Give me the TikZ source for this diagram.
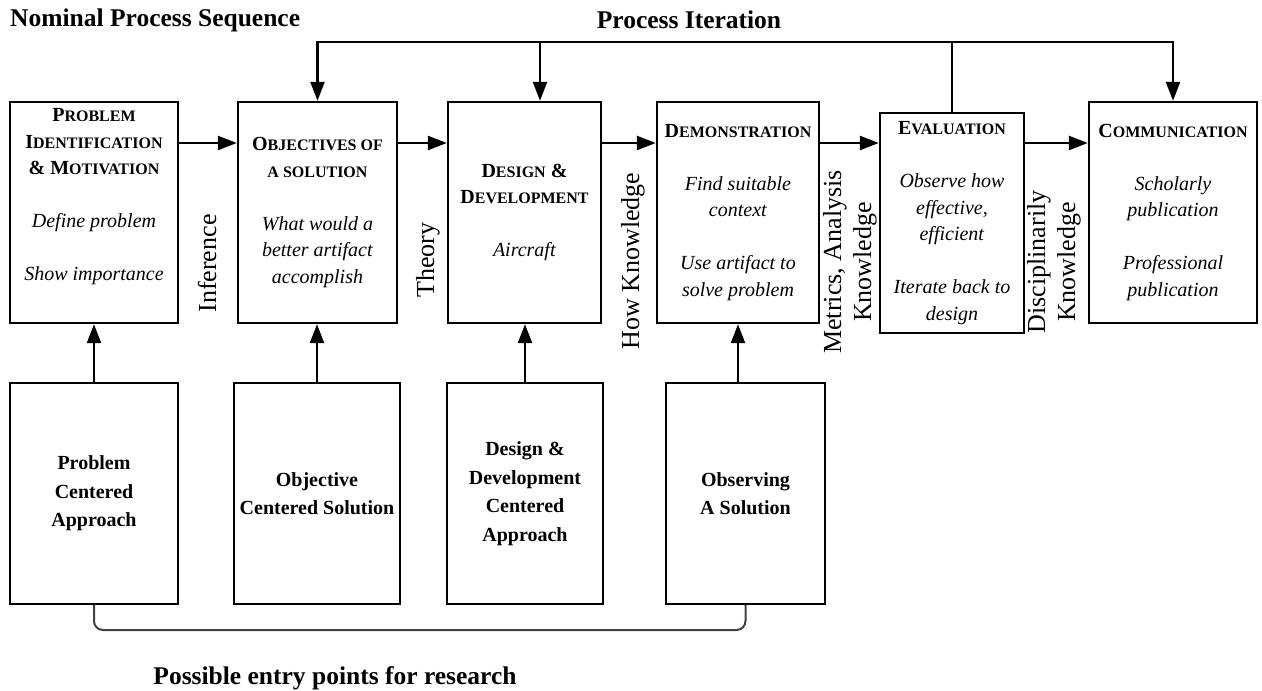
\documentclass[tikz,border=0pt]{standalone}
\usepackage{fontspec}
\setmainfont{Liberation Serif}
\usetikzlibrary{arrows.meta,calc}
% bold "small caps": first letter large, rest smaller capitals
\newcommand\smc[2]{{\fontsize{20}{26.5}\selectfont #1}{\fontsize{16}{26.5}\selectfont #2}}
\begin{document}
\begin{tikzpicture}[x=1pt,y=-1pt,line join=miter,
  box/.style={draw, line width=2.4pt, inner sep=0pt, align=center,
              font=\fontsize{20}{26.5}\selectfont},
  entry/.style={box, font=\bfseries\fontsize{20}{28.5}\selectfont},
  flow/.style={line width=2.4pt, -{Triangle[length=19pt,width=14pt]}},
  link/.style={line width=2.4pt},
  side/.style={rotate=90, align=center, inner sep=0pt, font=\fontsize{26}{30}\selectfont},
  title/.style={inner sep=0pt, font=\bfseries\fontsize{25.5}{30}\selectfont},
  bracket/.style={line width=2pt, draw=black!75, rounded corners=9pt}]

\useasboundingbox (0,0) rectangle (1262,691);

% ---- nominal process sequence ----
\node[box, minimum width=168pt, minimum height=221pt] (p1) at (94,212.5) {};
\node[align=center, inner sep=0pt, font=\fontsize{20}{26.5}\selectfont] (p1txt) at (94,197)
  {\textbf{\smc{P}{ROBLEM}}\\ \textbf{\smc{I}{DENTIFICATION}}\\ \textbf{\smc{\&~M}{OTIVATION}}\\[26.5pt]
   \textit{Define problem}\\[26.5pt] \textit{Show importance}};

\node[box, minimum width=159pt, minimum height=221pt] (p2) at (317.5,212.5)
  {\textbf{\smc{O}{BJECTIVES OF}}\\ \textbf{\smc{}{A SOLUTION}}\\[26.5pt]
   \textit{What would a}\\ \textit{better artifact}\\ \textit{accomplish}};

\node[box, minimum width=153pt, minimum height=221pt] (p3) at (524.5,212.5)
  {\textbf{\smc{D}{ESIGN} \smc{\&}{}}\\ \textbf{\smc{D}{EVELOPMENT}}\\[26.5pt] \textit{Aircraft}};

\node[box, minimum width=162pt, minimum height=221pt] (p4) at (738,212.5)
  {\textbf{\smc{D}{EMONSTRATION}}\\[26.5pt] \textit{Find suitable}\\ \textit{context}\\[26.5pt]
   \textit{Use artifact to}\\ \textit{solve problem}};

\node[box, minimum width=144pt, minimum height=220pt] (p5) at (952,223)
  {\textbf{\smc{E}{VALUATION}}\\[26.5pt] \textit{Observe how}\\ \textit{effective,}\\ \textit{efficient}\\[26.5pt]
   \textit{Iterate back to}\\ \textit{design}};

\node[box, minimum width=168pt, minimum height=221pt] (p6) at (1173,212.5)
  {\textbf{\smc{C}{OMMUNICATION}}\\[26.5pt] \textit{Scholarly}\\ \textit{publication}\\[26.5pt]
   \textit{Professional}\\ \textit{publication}};

% ---- entry points ----
\node[entry, minimum width=168pt, minimum height=221pt] (q1) at (94,493.5) {Problem\\ Centered\\ Approach};
\node[entry, minimum width=166pt, minimum height=221pt] (q2) at (317,493.5) {Objective\\ Centered Solution};
\node[entry, minimum width=156pt, minimum height=221pt] (q3) at (525,493.5) {Design \&\\ Development\\ Centered\\ Approach};
\node[entry, minimum width=159pt, minimum height=221pt] (q4) at (745.5,493.5) {Observing\\ A Solution};

% ---- sequence arrows ----
\coordinate (ay) at (0,143);
\draw[flow] (p1.east |- ay) -- (p2.west |- ay);
\draw[flow] (p2.east |- ay) -- (p3.west |- ay);
\draw[flow] (p3.east |- ay) -- (p4.west |- ay);
\draw[flow] (p4.east |- ay) -- (p5.west |- ay);
\draw[flow] (p5.east |- ay) -- (p6.west |- ay);

% ---- entry arrows ----
\draw[flow] (q1.north) -- (p1.south);
\draw[flow] (q2.north) -- (q2.north |- p2.south);
\draw[flow] (q3.north) -- (q3.north |- p3.south);
\draw[flow] (p4.south |- q4.north) -- (p4.south);

% ---- iteration loop ----
\coordinate (top) at (0,42);
\coordinate (it3) at (540,42);
\draw[link] (p5.north) -- (p5.north |- top);
\draw[flow] (p5.north |- top) -| (p2.north);
\draw[flow] (p5.north |- top) -| (p6.north);
\draw[flow] (it3) -- (it3 |- p3.north);

% ---- entry bracket ----
\coordinate (by) at (0,630);
\draw[bracket] (q1.south) -- (q1.south |- by) -- (q4.south |- by) -- (q4.south);

% ---- outputs between stages ----
\node[side] (lInf) at (207,263.5) {Inference};
\node[side] (lThe) at (428,260) {Theory};
\node[side] (lHow) at (633,261) {How Knowledge};
\node[side] (lMet) at (850,262) {Metrics, Analysis\\ Knowledge};
\node[side] (lDis) at (1054,262) {Disciplinarily\\ Knowledge};

% ---- titles ----
\node[title, anchor=west] (nps) at (10,20) {Nominal Process Sequence};
\node[title] (pit) at (689,20) {Process Iteration};
\node[title] (pep) at (335,678) {Possible entry points for research};
\end{tikzpicture}
\end{document}
